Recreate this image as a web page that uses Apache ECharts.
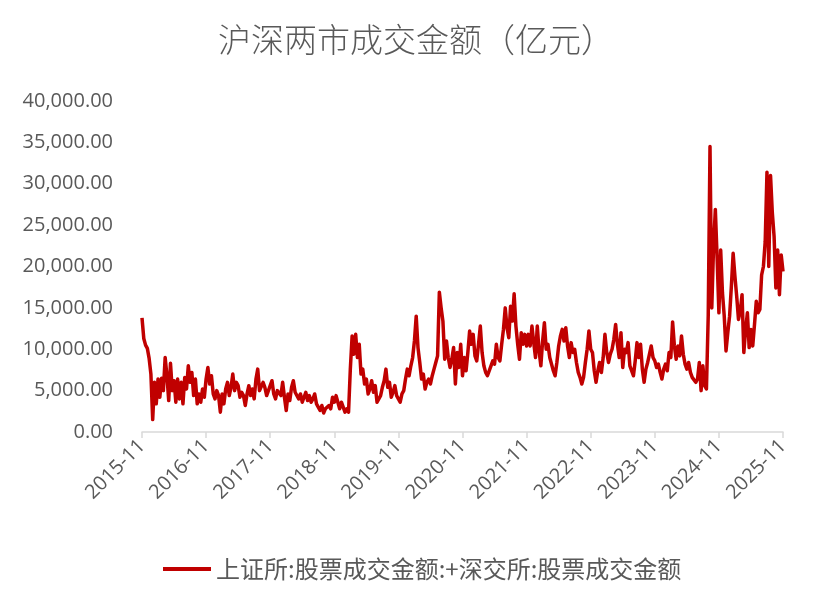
<!DOCTYPE html>
<html>
<head>
<meta charset="utf-8">
<script src="https://cdn.jsdelivr.net/npm/echarts@6/dist/echarts.min.js"></script>
<style>
html,body{margin:0;padding:0;background:#fff;}
#chart{width:832px;height:605px;}
</style>
</head>
<body>
<div id="chart"></div>
<script>
// Tick labels (one per year, every 12 months)
const tickLabels = ['2015-11','2016-11','2017-11','2018-11','2019-11','2020-11','2021-11','2022-11','2023-11','2024-11','2025-11'];
const seriesName = '上证所:股票成交金额:+深交所:股票成交金额';
const yTicks = [0, 5000, 10000, 15000, 20000, 25000, 30000, 35000, 40000];

// Turnover (亿元), ~3 readings per month, Nov..Oct of each year
const vals2016 = [13800,11300,10500,10100,8900,7000,1500,6000,3400,6400,4200,6500,5000,9000,6800,3800,8300,5000,6200,3600,6400,4000,6000,3400,6600,5200,8000,6000,7200,4400,6400,3400,4600,3600,5200,4200];
const vals2017 = [6400,7800,5800,6800,4600,4000,5000,4400,2400,4600,3400,5200,6000,4400,5400,7000,5000,6000,5600,4200,4800,4400,3200,4600,5600,4400,5200,4000,6400,7600,5000,4800,6000,5400,4400,5000];
const vals2018 = [5000,6200,4600,4000,5000,5200,4400,6000,4200,2600,4600,3800,5400,6200,4800,5000,4000,4600,3600,4200,4800,3800,4400,3600,4000,4600,3400,3000,2600,3200,2300,2800,2600,3200,2800,4200];
const vals2019 = [3600,4400,3600,2800,3600,3400,2400,2800,2400,7600,11600,9400,11800,9000,10600,7000,7600,5800,6400,4600,5200,6200,4800,5600,3600,3400,4400,5400,6200,7600,5400,6000,4200,4800,5600,4400];
const vals2020 = [4000,3600,4600,5000,6400,7600,6800,8000,9000,11000,14000,10200,8400,6400,7000,5200,6000,6400,5800,6800,7600,8400,9200,16900,15000,13400,8800,11000,9000,7800,8800,10200,5800,9600,7800,10600];
const vals2021 = [6800,9000,7400,9600,12200,10600,11800,9200,8600,10600,12800,9600,8000,7200,6800,6600,8000,8600,8200,10600,9000,8600,10600,12400,15000,12600,11400,15200,13400,16700,12800,10600,8800,12000,10600,11800];
const vals2022 = [10400,11800,10400,12800,10800,9000,12800,9800,8000,11000,13200,10000,10600,9000,8200,7400,6800,8400,10400,11600,12400,11000,12600,10400,9000,10800,9600,10000,8400,7200,6600,5800,6600,8400,10000,12200];
const vals2023 = [10000,9600,7400,6000,7400,8400,7200,9000,11800,9600,8400,9400,10000,11200,13000,10600,9000,12000,7800,10000,9600,10800,8000,7800,6800,8600,10800,9000,10600,7600,6000,7600,8400,9400,10400,9000];
const vals2024 = [8600,7800,8200,7200,6400,7600,8200,7400,9600,9000,13300,10400,8800,10400,9200,11600,9400,8200,7600,8400,7200,6600,6800,6000,6400,8400,5000,8000,5600,5200,14000,34500,15000,22400,26900,21000];
const vals2025 = [14400,22000,16800,14000,9800,12000,14000,17600,21600,18800,16400,13600,14600,16600,9600,12400,14400,10200,12400,10400,13000,15800,14400,14800,19000,20000,23000,31400,20000,31000,26500,23600,17400,22000,16600,21400,19400];

const values = [].concat(vals2016, vals2017, vals2018, vals2019, vals2020, vals2021, vals2022, vals2023, vals2024, vals2025);
const pointsPerMonth = 3;
const data = values.map((v, i) => [i / pointsPerMonth, v]);

function fmt(v) {
  const s = v.toFixed(2);
  const parts = s.split('.');
  parts[0] = parts[0].replace(/\B(?=(\d{3})+(?!\d))/g, ',');
  return parts.join('.');
}

const chart = echarts.init(document.getElementById('chart'), null, {renderer: 'canvas'});
chart.setOption({
  animation: false,
  backgroundColor: '#ffffff',
  title: {
    text: '沪深两市成交金额（亿元）',
    left: 'center',
    top: 18,
    textStyle: {
      fontFamily: 'Noto Sans CJK SC',
      fontSize: 33,
      fontWeight: 300,
      color: '#595959'
    }
  },
  legend: {
    data: [seriesName],
    left: 158,
    top: 552,
    icon: 'rect',
    itemWidth: 48,
    itemHeight: 4,
    itemGap: 10,
    textStyle: {
      fontFamily: 'Noto Sans CJK SC',
      fontSize: 24,
      color: '#595959'
    }
  },
  grid: {
    left: 142,
    right: 49,
    top: 101,
    bottom: 173,
    containLabel: false
  },
  xAxis: {
    type: 'value',
    min: 0,
    max: 120,
    interval: 12,
    splitLine: {show: false},
    axisLine: {show: true, lineStyle: {color: '#D9D9D9', width: 1.5}},
    axisTick: {show: true, length: 6, lineStyle: {color: '#D9D9D9', width: 1.5}},
    axisLabel: {
      rotate: 45,
      margin: 11,
      fontFamily: 'Open Sans',
      fontSize: 20,
      color: '#595959',
      formatter: function (v) { return tickLabels[Math.round(v / 12)] || ''; }
    }
  },
  yAxis: {
    type: 'value',
    min: yTicks[0],
    max: yTicks[yTicks.length - 1],
    interval: 5000,
    splitLine: {show: false},
    axisLine: {show: false},
    axisTick: {show: false},
    axisLabel: {
      margin: 29,
      fontFamily: 'Open Sans',
      fontSize: 20,
      color: '#595959',
      formatter: fmt
    }
  },
  series: [{
    name: seriesName,
    type: 'line',
    data: data,
    showSymbol: false,
    symbol: 'none',
    smooth: false,
    lineStyle: {color: '#C00000', width: 3.5, join: 'round'},
    itemStyle: {color: '#C00000'}
  }]
});
</script>
</body>
</html>
